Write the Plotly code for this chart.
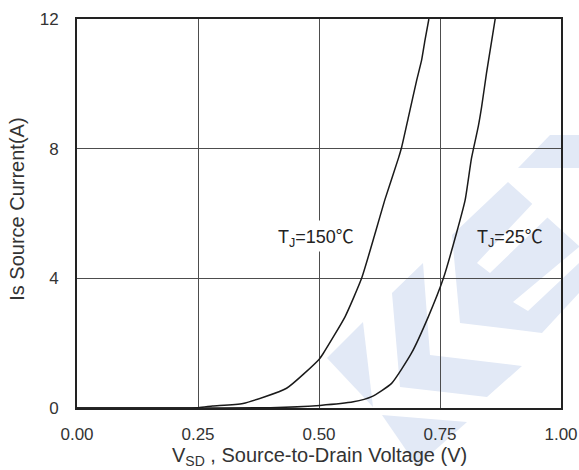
import plotly.graph_objects as go

# Source-drain diode forward characteristics
v_150 = [0.0, 0.25, 0.28, 0.343, 0.433, 0.50, 0.509, 0.554, 0.588, 0.616,
         0.636, 0.664, 0.671, 0.685, 0.702, 0.712, 0.719, 0.727]
i_150 = [0.0, 0.01, 0.06, 0.14, 0.61, 1.50, 1.69, 2.82, 4.0, 5.39,
         6.42, 7.70, 8.06, 8.99, 10.12, 10.73, 11.35, 12.0]

v_25 = [0.0, 0.40, 0.502, 0.571, 0.609, 0.650, 0.691, 0.726, 0.757, 0.784,
        0.802, 0.815, 0.829, 0.836, 0.846, 0.857, 0.864]
i_25 = [0.0, 0.01, 0.08, 0.19, 0.35, 0.76, 1.69, 2.82, 4.0, 5.39,
        6.42, 7.70, 8.68, 9.29, 10.32, 11.35, 12.0]

x_ticks = [0.0, 0.25, 0.50, 0.75, 1.00]
x_tick_text = ["0.00", "0.25", "0.50", "0.75", "1.00"]
y_ticks = [0, 4, 8, 12]
y_tick_text = ["0", "4", "8", "12"]

W, H = 579, 470
ML, MR, MT, MB = 77, 18, 19, 62
PW, PH = W - ML - MR, H - MT - MB

FONT = "Liberation Sans, Arial, sans-serif"
TXT = "#333333"
DEG_C = "<span style='font-family:Noto Sans CJK SC'>℃</span>"

fig = go.Figure()
for v, i in [(v_150, i_150), (v_25, i_25)]:
    fig.add_trace(go.Scatter(
        x=v, y=i, mode="lines",
        line=dict(color="#1a1a1a", width=1.5, shape="spline", smoothing=0.5),
        showlegend=False, hoverinfo="skip",
    ))

fig.add_annotation(x=0.494, y=5.3, xref="x", yref="y",
                   text="T<sub>J</sub>=150" + DEG_C, showarrow=False,
                   font=dict(size=18, color="#222222", family=FONT),
                   bgcolor="white")
fig.add_annotation(x=0.895, y=5.3, xref="x", yref="y",
                   text="T<sub>J</sub>=25" + DEG_C, showarrow=False,
                   font=dict(size=18, color="#222222", family=FONT))

# axis titles
fig.add_annotation(x=0.5, y=-0.125, xref="paper", yref="paper",
                   xanchor="center", yanchor="middle", showarrow=False,
                   text="V<sub>SD</sub> , Source-to-Drain Voltage (V)",
                   font=dict(size=20, color=TXT, family=FONT))
fig.add_annotation(x=-0.124, y=0.512, xref="paper", yref="paper",
                   xanchor="center", yanchor="middle", showarrow=False,
                   textangle=-90, text="Is Source Current(A)",
                   font=dict(size=20, color=TXT, family=FONT))


# light-blue logo watermark, given in page pixels
def px_path(points):
    pts = [((px - ML) / PW, (H - MB - py) / PH) for px, py in points]
    d = "M " + " L ".join(f"{x:.4f},{y:.4f}" for x, y in pts) + " Z"
    return d


WM = "rgb(226,233,246)"
logo_parts = [
    ([(327, 358), (363, 322), (373, 407)], WM),
    ([(382, 415), (467, 422), (417, 466)], WM),
    ([(392, 293), (423, 263), (430, 355), (522, 366), (487, 397), (400, 387)], WM),
    ([(518, 168), (550, 135), (579, 135), (579, 168)], WM),
    ([(452, 235), (508, 182), (579, 246), (579, 293), (542, 333), (460, 323)], WM),
    ([(477, 263), (490, 273), (549, 216), (535, 201)], "white"),
    ([(513, 302), (528, 311), (579, 263), (579, 247)], "white"),
]
for pts, col in logo_parts:
    fig.add_shape(type="path", path=px_path(pts), xref="paper", yref="paper",
                  fillcolor=col, line=dict(width=0), layer="below")

fig.update_xaxes(
    range=[0, 1], tickvals=x_ticks, ticktext=x_tick_text,
    showgrid=True, gridcolor="#4d4d4d", gridwidth=1,
    showline=True, linecolor="#222222", linewidth=2, mirror=True,
    ticks="", ticklabelstandoff=10, zeroline=False, automargin=False,
    tickfont=dict(size=17, color=TXT, family=FONT),
)
fig.update_yaxes(
    range=[0, 12], tickvals=y_ticks, ticktext=y_tick_text,
    showgrid=True, gridcolor="#4d4d4d", gridwidth=1,
    showline=True, linecolor="#222222", linewidth=2, mirror=True,
    ticks="", ticklabelstandoff=13, zeroline=False, automargin=False,
    tickfont=dict(size=17, color=TXT, family=FONT),
)

fig.update_layout(
    width=W, height=H,
    margin=dict(l=ML, r=MR, t=MT, b=MB),
    paper_bgcolor="white", plot_bgcolor="rgba(0,0,0,0)",
    font=dict(family=FONT),
)

fig.write_html("out.html")
